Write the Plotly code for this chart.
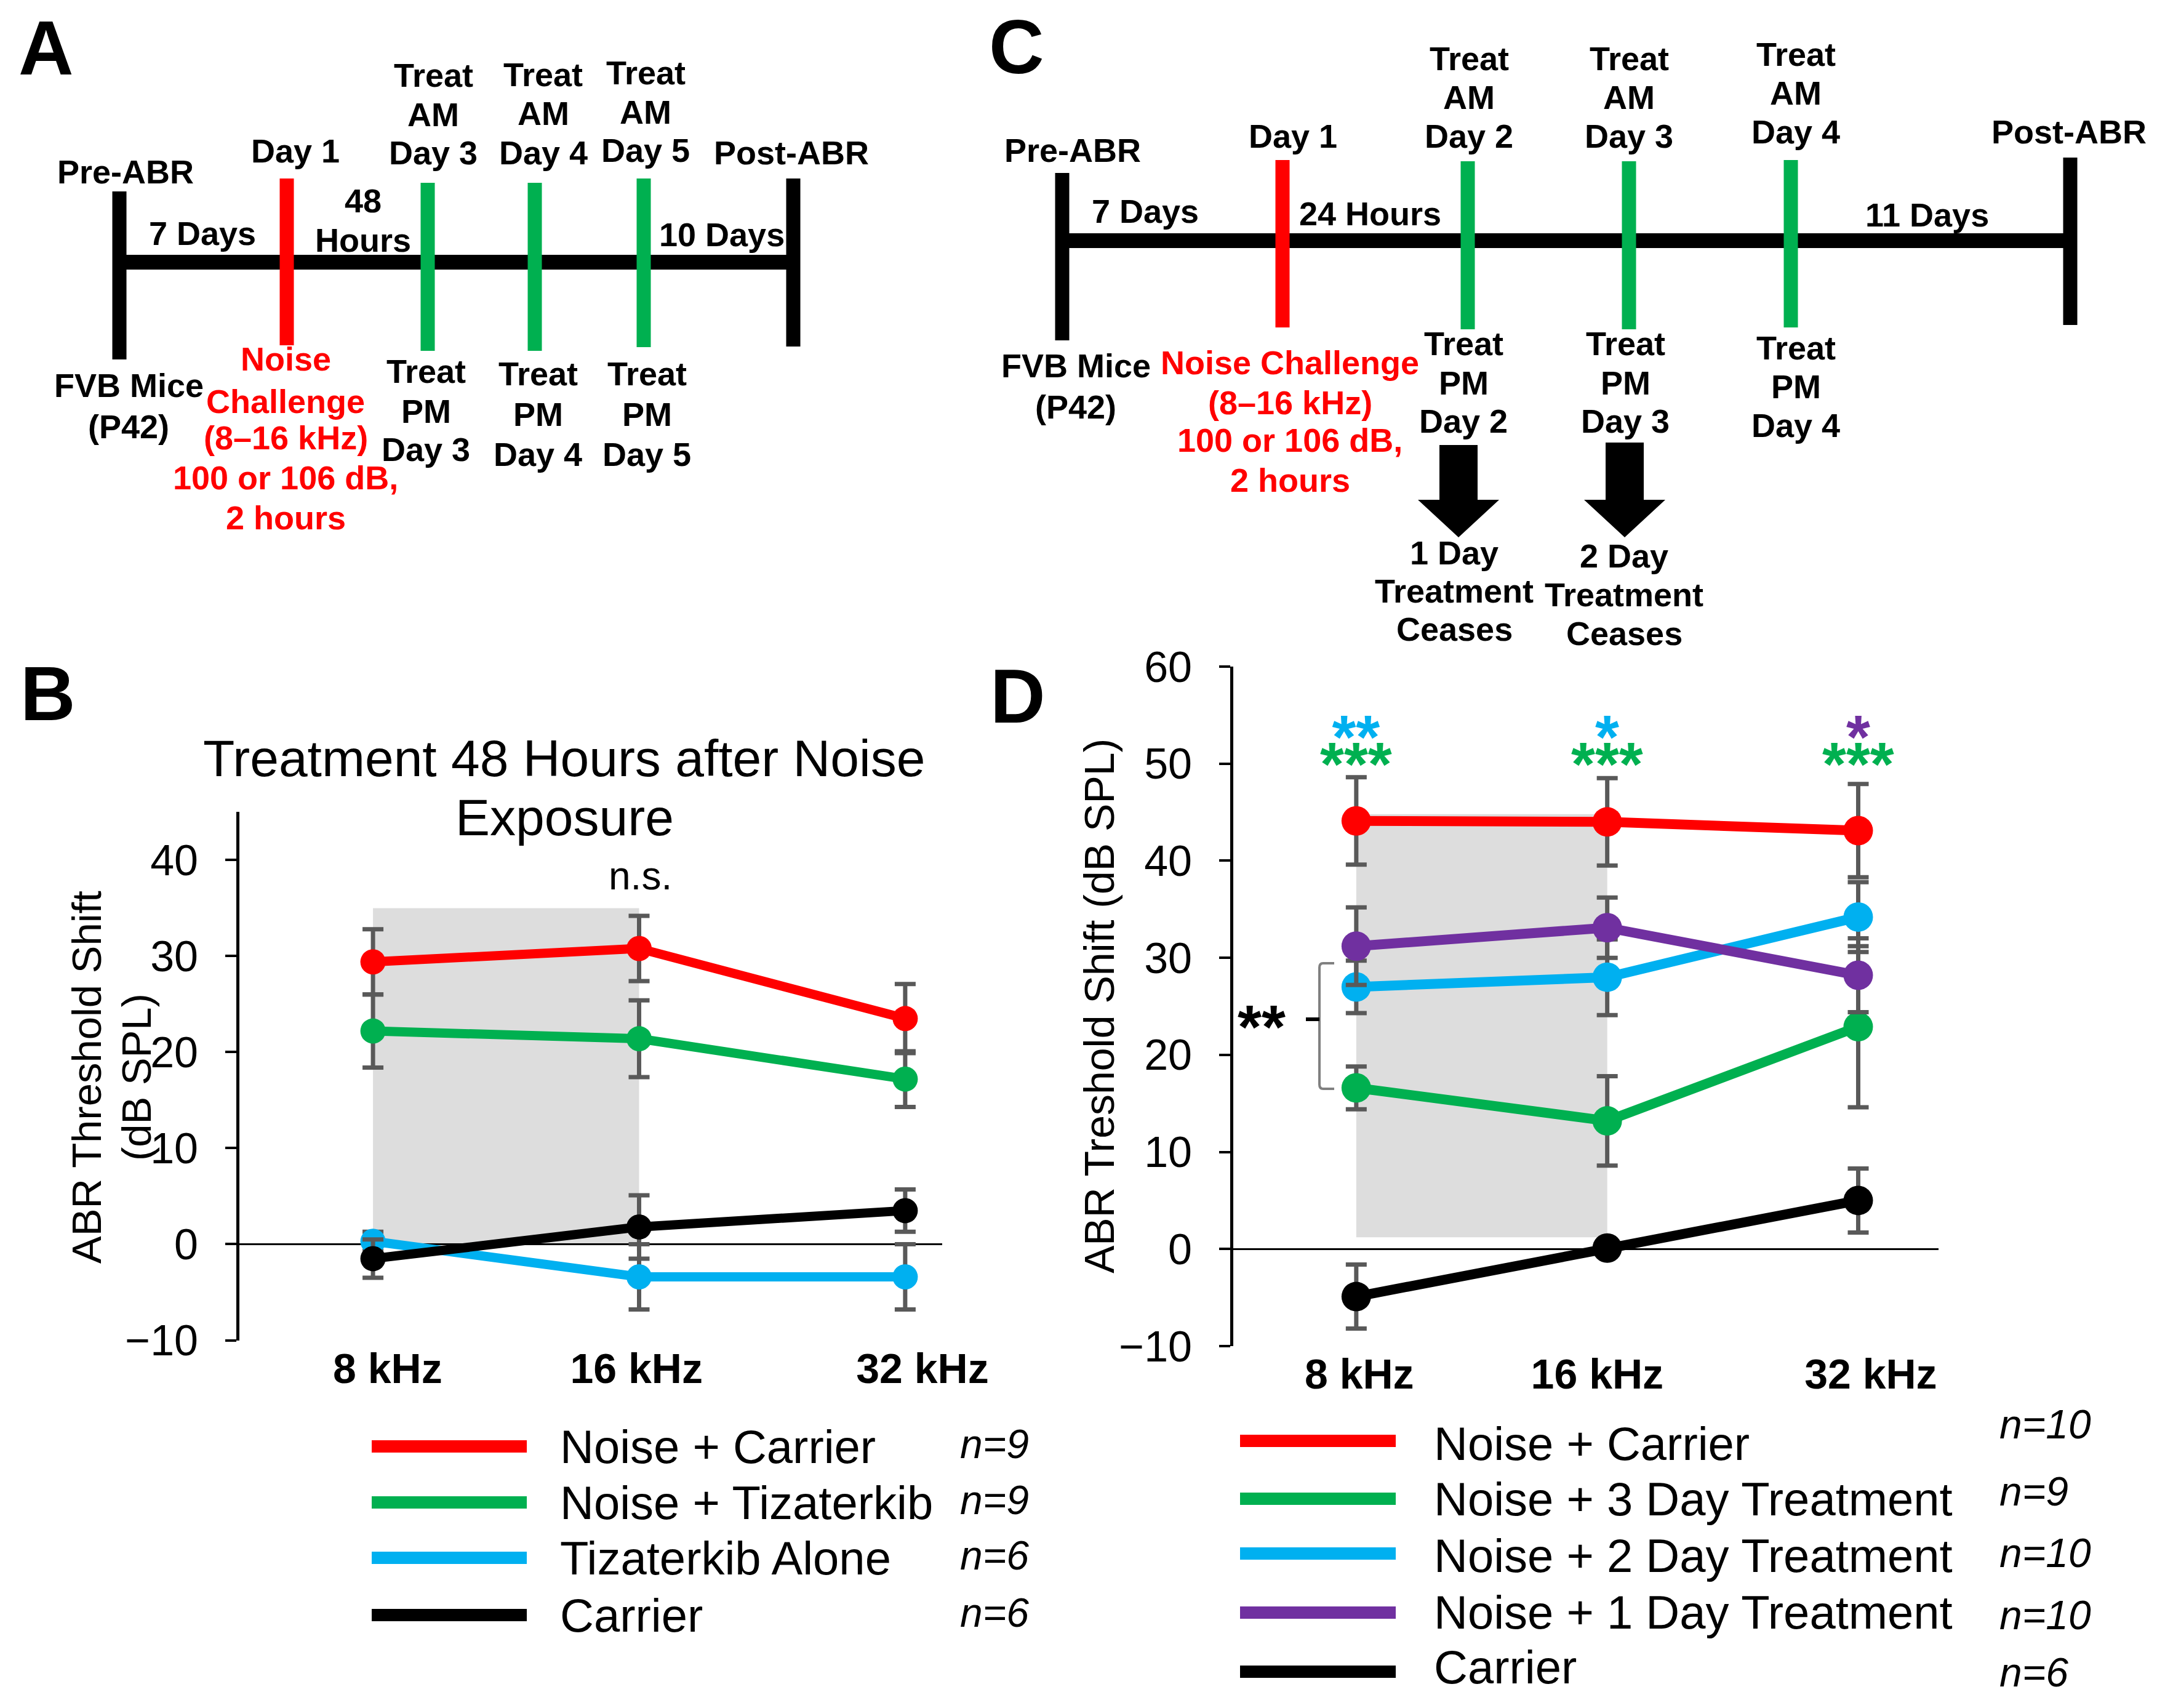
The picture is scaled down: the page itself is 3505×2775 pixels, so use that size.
import plotly.graph_objects as go

W, H = 3505, 2775
FONT = "Liberation Sans, Arial, sans-serif"

# ---------------- data ----------------
freqs = ["8 kHz", "16 kHz", "32 kHz"]

b_names = ["Noise + Carrier", "Noise + Tizaterkib", "Tizaterkib Alone", "Carrier"]
b_ns = ["n=9", "n=9", "n=6", "n=6"]
b_colors = ["#FF0000", "#00B050", "#00B0F0", "#000000"]
b_noise_carrier = [29.4, 30.8, 23.5]
b_noise_carrier_err = [3.4, 3.4, 3.6]
b_noise_tiza = [22.2, 21.4, 17.2]
b_noise_tiza_err = [3.8, 4.0, 2.9]
b_tiza_alone = [0.3, -3.4, -3.4]
b_tiza_alone_err = [1.0, 3.4, 3.4]
b_carrier = [-1.5, 1.8, 3.5]
b_carrier_err = [2.0, 3.3, 2.2]
b_yticks = [-10, 0, 10, 20, 30, 40]

d_names = ["Noise + Carrier", "Noise + 3 Day Treatment", "Noise + 2 Day Treatment",
           "Noise + 1 Day Treatment", "Carrier"]
d_ns = ["n=10", "n=9", "n=10", "n=10", "n=6"]
d_colors = ["#FF0000", "#00B050", "#00B0F0", "#7030A0", "#000000"]
d_noise_carrier = [44.1, 44.0, 43.1]
d_noise_carrier_err = [4.5, 4.5, 4.8]
d_3day = [16.6, 13.2, 22.9]
d_3day_err = [2.2, 4.6, 8.3]
d_2day = [27.0, 28.0, 34.2]
d_2day_err = [2.7, 3.9, 3.6]
d_1day = [31.2, 33.1, 28.2]
d_1day_err = [4.0, 3.1, 3.8]
d_carrier = [-4.9, 0.1, 5.0]
d_carrier_err = [3.3, 0.4, 3.3]
d_yticks = [-10, 0, 10, 20, 30, 40, 50, 60]

# significance marks (panel D)
d_sig_green = ["***", "***", "***"]
d_sig_top = ["**", "*", "*"]
d_sig_top_colors = ["#00B0F0", "#00B0F0", "#7030A0"]
d_sig_y = 51.4

# shaded treatment windows (in category-index units)
b_shade = (0, 1, 0, 35)
d_shade = (0, 1, 1.2, 44.8)

ERR_COLOR = "#595959"

# category index positions and label placement (style)
xpos = list(range(len(freqs)))
b_label_shift = [0.055, -0.01, 0.065]
d_label_shift = [0.012, -0.04, 0.05]


def px(x):
    return x / W


def py(y):
    return 1 - y / H


def tick_text(v):
    return ("\u2212" + str(-v)) if v < 0 else str(v)


fig = go.Figure()

b_series = [b_noise_carrier, b_noise_tiza, b_tiza_alone, b_carrier]
b_errs = [b_noise_carrier_err, b_noise_tiza_err, b_tiza_alone_err, b_carrier_err]
for name, vals, errs, col in zip(b_names, b_series, b_errs, b_colors):
    fig.add_trace(go.Scatter(
        x=xpos, y=vals, name=name, mode="lines+markers", text=freqs,
        line=dict(color=col, width=15), marker=dict(color=col, size=41),
        error_y=dict(type="data", array=errs, color=ERR_COLOR, thickness=7, width=17),
        xaxis="x", yaxis="y", showlegend=False))

d_series = [d_noise_carrier, d_3day, d_2day, d_1day, d_carrier]
d_errs = [d_noise_carrier_err, d_3day_err, d_2day_err, d_1day_err, d_carrier_err]
for name, vals, errs, col in zip(d_names, d_series, d_errs, d_colors):
    fig.add_trace(go.Scatter(
        x=xpos, y=vals, name=name, mode="lines+markers", text=freqs,
        line=dict(color=col, width=16), marker=dict(color=col, size=48),
        error_y=dict(type="data", array=errs, color=ERR_COLOR, thickness=7, width=17),
        xaxis="x2", yaxis="y2", showlegend=False))

shapes = []
ann = []

# shaded regions
for (x0, x1, y0, y1), xr, yr in [(b_shade, "x", "y"), (d_shade, "x2", "y2")]:
    shapes.append(dict(type="rect", xref=xr, yref=yr, x0=x0, x1=x1, y0=y0, y1=y1,
                       fillcolor="#DDDDDD", line=dict(width=0), layer="below"))


def T(x, y, s, size=54, color="black", bold=True, italic=False,
      xanchor="center", angle=0, xref="paper", yref="paper"):
    if bold:
        s = "<b>" + s + "</b>"
    if italic:
        s = "<i>" + s + "</i>"
    if xref == "paper":
        x = px(x)
    if yref == "paper":
        y = py(y)
    ann.append(dict(x=x, y=y, xref=xref, yref=yref, text=s, showarrow=False,
                    xanchor=xanchor, yanchor="middle", textangle=angle,
                    font=dict(family=FONT, size=size, color=color)))


def L(x0, y0, x1, y1, color="black", width=23):
    shapes.append(dict(type="line", xref="paper", yref="paper",
                       x0=px(x0), y0=py(y0), x1=px(x1), y1=py(y1),
                       line=dict(color=color, width=width)))


def stack(x, ys, lines, color="black", size=54):
    for yy, t in zip(ys, lines):
        T(x, yy, t, size=size, color=color)


RED, GREEN = "#FF0000", "#00B050"

# ---------------- panel A timeline ----------------
L(194, 426, 1291, 426, width=24)
L(194, 311, 194, 584)
L(466, 290, 466, 561, RED)
for gx, gy0, gy1 in [(695, 297, 570), (869, 297, 570), (1046, 290, 564)]:
    L(gx, gy0, gx, gy1, GREEN)
L(1289, 290, 1289, 563)

T(75, 78, "A", size=124)
T(204, 279, "Pre-ABR")
T(480, 245, "Day 1")
T(329, 379, "7 Days")
stack(590, [326, 390], ["48", "Hours"])
stack(704, [122, 186, 248], ["Treat", "AM", "Day 3"])
stack(883, [121, 184, 248], ["Treat", "AM", "Day 4"])
stack(1049, [118, 182, 244], ["Treat", "AM", "Day 5"])
T(1286, 248, "Post-ABR")
T(1173, 381, "10 Days")
stack(209, [626, 693], ["FVB Mice", "(P42)"])
stack(464, [583, 652, 711, 776, 841],
      ["Noise", "Challenge", "(8\u201316 kHz)", "100 or 106 dB,", "2 hours"], color=RED)
stack(692, [603, 668, 730], ["Treat", "PM", "Day 3"])
stack(874, [607, 673, 738], ["Treat", "PM", "Day 4"])
stack(1051, [607, 673, 738], ["Treat", "PM", "Day 5"])

# ---------------- panel C timeline ----------------
L(1728, 391, 3368, 391, width=24)
L(1726, 281, 1726, 553)
L(2084, 260, 2084, 532, RED)
for gx, gy0, gy1 in [(2385, 262, 535), (2647, 262, 535), (2910, 260, 532)]:
    L(gx, gy0, gx, gy1, GREEN)
L(3364, 256, 3364, 528)

for cx, top in [(2370, 723), (2640, 719)]:
    pts = [(cx - 31, top), (cx + 31, top), (cx + 31, 812), (cx + 66, 812),
           (cx, 873), (cx - 66, 812), (cx - 31, 812)]
    path = "M " + " L ".join(f"{px(a):.5f},{py(b):.5f}" for a, b in pts) + " Z"
    shapes.append(dict(type="path", xref="paper", yref="paper", path=path,
                       fillcolor="black", line=dict(width=0)))

T(1652, 76, "C", size=124)
T(1743, 244, "Pre-ABR")
T(2101, 221, "Day 1")
T(1861, 343, "7 Days")
T(2226, 347, "24 Hours")
stack(2387, [95, 158, 221], ["Treat", "AM", "Day 2"])
stack(2647, [95, 158, 221], ["Treat", "AM", "Day 3"])
stack(2918, [88, 151, 214], ["Treat", "AM", "Day 4"])
T(3362, 214, "Post-ABR")
T(3131, 349, "11 Days")
stack(1748, [594, 661], ["FVB Mice", "(P42)"])
stack(2096, [589, 654, 715, 780],
      ["Noise Challenge", "(8\u201316 kHz)", "100 or 106 dB,", "2 hours"], color=RED)
stack(2378, [558, 622, 684], ["Treat", "PM", "Day 2"])
stack(2641, [558, 622, 684], ["Treat", "PM", "Day 3"])
stack(2918, [565, 628, 691], ["Treat", "PM", "Day 4"])
stack(2363, [898, 960, 1022], ["1 Day", "Treatment", "Ceases"])
stack(2639, [903, 966, 1029], ["2 Day", "Treatment", "Ceases"])

# ---------------- panel B texts ----------------
T(78, 1127, "B", size=124)
T(916, 1232, "Treatment 48 Hours after Noise", size=84, bold=False)
T(917, 1328, "Exposure", size=84, bold=False)
T(1040, 1423, "n.s.", size=64, bold=False)
T(140, 1750, "ABR Threshold Shift", size=67, bold=False, angle=-90)
T(221, 1750, "(dB SPL)", size=67, bold=False, angle=-90)

# legend B
b_rows = [2350, 2441, 2531, 2624]
for yy, name, nn, col in zip(b_rows, b_names, b_ns, b_colors):
    L(604, yy, 856, yy, col, width=20)
    T(908, yy, name, size=76, bold=False, xanchor="left")
    T(1558, yy - 4, nn, size=66, bold=False, italic=True, xanchor="left")

# ---------------- panel D texts ----------------
T(1654, 1131, "D", size=124)
T(1786, 1634, "ABR Treshold Shift (dB SPL)", size=68, bold=False, angle=-90)
for xi, g, t, c in zip(xpos, d_sig_green, d_sig_top, d_sig_top_colors):
    txt = (f"<span style='font-size:100px;color:{c}'>{t}</span><br>"
           f"<span style='font-size:100px'>{g}</span>")
    T(xi, d_sig_y, txt, size=34, color=GREEN, xref="x2", yref="y2")

# bracket
bx, by0, by1, bxe = 2144, 1565, 1769, 2168
bp = (f"M {px(bxe):.5f},{py(by0):.5f} L {px(bx + 6):.5f},{py(by0):.5f} "
      f"Q {px(bx):.5f},{py(by0):.5f} {px(bx):.5f},{py(by0 + 7):.5f} "
      f"L {px(bx):.5f},{py(by1 - 7):.5f} "
      f"Q {px(bx):.5f},{py(by1):.5f} {px(bx + 6):.5f},{py(by1):.5f} "
      f"L {px(bxe):.5f},{py(by1):.5f}")
shapes.append(dict(type="path", xref="paper", yref="paper", path=bp,
                   line=dict(color="#808080", width=4)))
L(2122, 1656, 2144, 1656, "black", width=6)
T(2050, 1668, "**", size=100)

# legend D
d_rows = [2341, 2435, 2524, 2620, 2716]
d_text_y = [2345, 2435, 2527, 2619, 2708]
d_n_y = [2314, 2423, 2523, 2624, 2717]
for yy, ty, ny, name, nn, col in zip(d_rows, d_text_y, d_n_y, d_names, d_ns, d_colors):
    L(2015, yy, 2268, yy, col, width=20)
    T(2328, ty, name, size=76, bold=False, xanchor="left")
    T(3247, ny, nn, size=66, bold=False, italic=True, xanchor="left")

tickfont = dict(family=FONT, size=70, color="black")
xtickfont = dict(family=FONT, size=68, color="black")


def yax(domain, rng, ticks, anchor):
    return dict(domain=domain, range=rng, tickvals=ticks,
                ticktext=[tick_text(t) for t in ticks],
                showgrid=False, zeroline=True, zerolinecolor="black", zerolinewidth=3,
                showline=True, linecolor="black", linewidth=5,
                ticks="outside", ticklen=18, tickwidth=4, tickcolor="black",
                tickfont=tickfont, ticklabelstandoff=30, anchor=anchor, automargin=False)


def xax(domain, rng, shifts, anchor):
    return dict(domain=domain, range=rng,
                showgrid=False, zeroline=False, showline=False, ticks="",
                tickvals=[i + s for i, s in zip(xpos, shifts)],
                ticktext=["<b>" + f + "</b>" for f in freqs],
                tickfont=xtickfont, anchor=anchor, automargin=False)


fig.update_layout(
    width=W, height=H, autosize=False,
    margin=dict(l=0, r=0, t=0, b=0, pad=0, autoexpand=False),
    paper_bgcolor="white", plot_bgcolor="white", showlegend=False,
    shapes=shapes, annotations=ann, hovermode=False,
    xaxis=xax([px(389), px(1531)], [-0.502, 2.139], b_label_shift, "y"),
    yaxis=yax([py(2177.5), py(1319.4)], [-10, 45], b_yticks, "x"),
    xaxis2=xax([px(2004), px(3150)], [-0.49, 2.32], d_label_shift, "y2"),
    yaxis2=yax([py(2187), py(1083)], [-10, 60], d_yticks, "x2"),
)

fig.write_html("out.html", config={"displayModeBar": False},
               post_script="document.body.style.margin='0px';"
                           "document.body.style.overflow='hidden';")
